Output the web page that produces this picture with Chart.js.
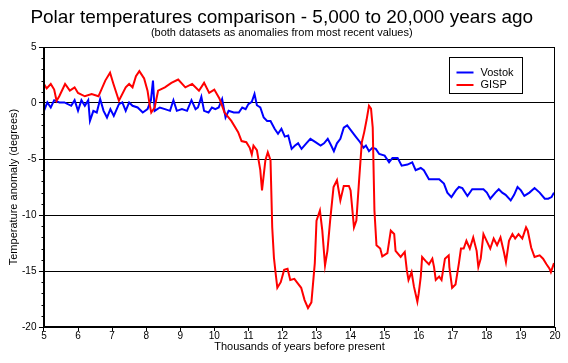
<!DOCTYPE html>
<html>
<head>
<meta charset="utf-8">
<title>Polar temperatures comparison</title>
<script src="https://cdn.jsdelivr.net/npm/chart.js@4.4.1/dist/chart.umd.min.js"></script>
<style>
  html, body { margin: 0; padding: 0; background: #fff; }
  #wrap { width: 568px; height: 363px; }
</style>
</head>
<body>
<div id="wrap"><canvas id="chart" width="568" height="363"></canvas></div>
<script>
/* Polar temperatures – Vostok vs GISP anomalies, 5k..20k years BP */

const vostokYears = [5.0, 5.1, 5.2, 5.3, 5.45, 5.6, 5.8, 5.9, 6.0, 6.1, 6.2, 6.3, 6.35, 6.45, 6.55, 6.65, 6.75, 6.85, 6.95, 7.05,
  7.2, 7.3, 7.4, 7.5, 7.6, 7.75, 7.9, 8.04, 8.14, 8.2, 8.25, 8.4, 8.55, 8.7, 8.8, 8.9, 9.05, 9.2, 9.33, 9.45,
  9.52, 9.62, 9.7, 9.83, 9.93, 10.03, 10.13, 10.23, 10.33, 10.42, 10.57, 10.72, 10.82, 10.92, 11.0, 11.1, 11.18, 11.25, 11.35, 11.45,
  11.55, 11.65, 11.77, 11.87, 11.97, 12.07, 12.17, 12.27, 12.37, 12.46, 12.56, 12.7, 12.82, 12.97, 13.12, 13.22, 13.33, 13.43, 13.51, 13.6,
  13.7, 13.8, 13.9, 14.0, 14.15, 14.28, 14.38, 14.45, 14.54, 14.64, 14.74, 14.84, 15.0, 15.13, 15.23, 15.38, 15.5, 15.67, 15.81, 15.91,
  16.06, 16.15, 16.3, 16.45, 16.6, 16.74, 16.84, 16.96, 17.09, 17.18, 17.28, 17.43, 17.57, 17.72, 17.9, 18.0, 18.1, 18.25, 18.35, 18.45,
  18.55, 18.7, 18.8, 18.9, 19.0, 19.1, 19.25, 19.4, 19.55, 19.7, 19.8, 19.9, 19.97];
const vostokTemp = [-0.7, 0.05, -0.4, 0.25, 0.05, 0.05, -0.25, 0.25, -0.7, 0.25, -0.25, 0.25, -1.6, -0.7, -0.85, 0.35, -0.7, -1.3, -0.55, -1.15,
  -0.1, 0.05, -0.7, 0.05, -0.25, -0.4, -0.85, -0.55, 0.25, 2.0, -0.7, -0.4, -0.55, -0.7, 0.25, -0.7, -0.55, -0.7, 0.25, -0.55,
  -0.4, 0.55, -0.7, -0.85, -0.4, -0.55, -0.4, 0.35, -1.3, -0.7, -0.85, -0.85, -0.4, -0.55, -0.1, 0.1, 0.8, -0.2, -0.4, -1.3,
  -1.6, -1.6, -2.3, -2.75, -2.3, -3.0, -2.9, -4.1, -3.8, -3.6, -4.1, -3.6, -3.2, -3.5, -3.8, -3.6, -3.2, -3.8, -4.3, -3.6,
  -3.2, -2.2, -2.0, -2.4, -3.0, -3.5, -4.0, -3.8, -4.3, -4.0, -4.1, -4.55, -4.7, -5.3, -4.9, -4.9, -5.6, -5.5, -5.3, -6.0,
  -5.8, -6.0, -6.8, -6.8, -6.8, -7.2, -8.0, -8.4, -7.8, -7.5, -7.6, -8.3, -7.7, -7.7, -7.7, -8.0, -8.55, -8.0, -7.7, -8.0,
  -8.2, -8.7, -8.2, -7.5, -7.8, -8.3, -8.0, -7.6, -8.0, -8.55, -8.55, -8.4, -8.0];

const gispYears = [5.0, 5.08, 5.2, 5.3, 5.37, 5.45, 5.62, 5.76, 5.9, 6.0, 6.2, 6.4, 6.6, 6.8, 6.94, 7.04, 7.2, 7.4, 7.5, 7.6,
  7.7, 7.8, 7.94, 8.04, 8.1, 8.15, 8.25, 8.35, 8.55, 8.74, 8.94, 9.15, 9.35, 9.55, 9.7, 9.85, 10.0, 10.15, 10.3, 10.5,
  10.7, 10.8, 10.94, 11.04, 11.1, 11.15, 11.25, 11.35, 11.4, 11.5, 11.57, 11.65, 11.7, 11.75, 11.8, 11.85, 11.95, 12.05, 12.15, 12.23,
  12.35, 12.45, 12.55, 12.65, 12.75, 12.85, 12.95, 13.0, 13.1, 13.17, 13.25, 13.32, 13.4, 13.5, 13.6, 13.7, 13.8, 13.95, 14.0, 14.1,
  14.17, 14.25, 14.33, 14.4, 14.47, 14.54, 14.6, 14.65, 14.7, 14.76, 14.87, 14.93, 15.08, 15.18, 15.28, 15.32, 15.47, 15.59, 15.65, 15.7,
  15.79, 15.86, 15.96, 16.0, 16.06, 16.1, 16.2, 16.3, 16.4, 16.45, 16.5, 16.6, 16.67, 16.77, 16.88, 16.9, 16.98, 17.08, 17.18, 17.24,
  17.32, 17.4, 17.5, 17.6, 17.7, 17.75, 17.82, 17.9, 18.1, 18.2, 18.3, 18.4, 18.5, 18.56, 18.65, 18.75, 18.83, 18.93, 19.04, 19.15,
  19.2, 19.3, 19.4, 19.55, 19.65, 19.75, 19.84, 19.88, 19.97];
const gispTemp = [1.7, 1.3, 1.7, 1.2, 0.2, 0.6, 1.7, 1.1, 1.4, 0.9, 0.6, 0.8, 0.6, 2.0, 2.7, 1.7, 0.2, 1.4, 1.7, 1.4,
  2.4, 2.85, 2.2, 1.1, -0.1, -0.85, -0.4, 1.1, 1.4, 1.8, 2.1, 1.4, 1.7, 1.1, 1.8, 0.9, 1.2, 0.4, -0.85, -1.6,
  -2.6, -3.4, -3.5, -4.0, -4.6, -3.8, -4.2, -6.0, -7.8, -5.1, -4.4, -5.1, -11.1, -13.8, -15.2, -16.5, -16.0, -14.9, -14.8, -15.8,
  -15.7, -16.1, -16.5, -17.6, -18.3, -17.8, -14.3, -10.5, -9.6, -11.4, -14.5, -13.2, -10.5, -7.5, -6.9, -8.7, -7.4, -7.4, -7.8, -11.1,
  -10.5, -6.9, -3.5, -2.6, -1.5, -0.25, -0.5, -2.2, -9.6, -12.7, -13.0, -13.7, -13.4, -11.4, -11.7, -13.2, -13.75, -13.3, -14.9, -15.8,
  -15.1, -16.4, -17.75, -17.0, -15.5, -13.75, -14.1, -14.4, -13.9, -14.65, -15.8, -15.5, -15.8, -13.9, -13.6, -14.65, -16.5, -16.2, -14.3, -13.0,
  -13.0, -12.3, -13.0, -12.0, -13.2, -14.65, -13.9, -11.7, -13.0, -12.1, -12.7, -12.0, -13.3, -14.2, -12.3, -11.7, -12.1, -11.7, -12.1, -11.1,
  -11.4, -12.9, -13.75, -13.6, -13.9, -14.4, -14.8, -15.1, -14.3];

const xTicks = [5, 6, 7, 8, 9, 10, 11, 12, 13, 14, 15, 16, 17, 18, 19, 20];
const yTicks = [5, 0, -5, -10, -15, -20];

const FONT = '"Liberation Sans", Arial, sans-serif';

function toPoints(xs, ys) {
  return xs.map((x, i) => ({ x: x, y: ys[i] }));
}

// frame round the plot, minor y ticks and the boxed legend
const decorPlugin = {
  id: "decor",
  afterDatasetsDraw(chart) {
    const ctx = chart.ctx;
    const a = chart.chartArea;
    const ys = chart.scales.y;
    ctx.save();
    ctx.strokeStyle = "#000";
    ctx.lineWidth = 1;

    const L = Math.round(a.left) + 0.5, R = Math.round(a.right) - 0.5;
    const T = Math.round(a.top) + 0.5, B = Math.round(a.bottom) - 0.5;
    ctx.strokeRect(L, T, R - L, B - T);

    // minor ticks each degree
    ctx.beginPath();
    for (let v = -19; v < 5; v++) {
      if (v % 5 === 0) continue;
      const py = Math.round(ys.getPixelForValue(v)) + 0.5;
      ctx.moveTo(L - 3, py);
      ctx.lineTo(L, py);
    }
    ctx.stroke();

    // legend
    const bx = Math.round(a.right) - 105.5, by = Math.round(a.top) + 10.5;
    const bw = 73, bh = 36;
    ctx.fillStyle = "#fff";
    ctx.fillRect(bx, by, bw, bh);
    ctx.strokeRect(bx, by, bw, bh);
    ctx.font = "11px " + FONT;
    ctx.textBaseline = "middle";
    chart.data.datasets.forEach((ds, i) => {
      const ly = by + 15 + i * 12.5;
      ctx.strokeStyle = ds.borderColor;
      ctx.lineWidth = 2;
      ctx.beginPath();
      ctx.moveTo(bx + 7, ly);
      ctx.lineTo(bx + 24, ly);
      ctx.stroke();
      ctx.fillStyle = "#000";
      ctx.fillText(ds.label, bx + 31, ly);
    });
    ctx.restore();
  }
};

const chart = new Chart(document.getElementById("chart"), {
  type: "line",
  data: {
    datasets: [
      { label: "Vostok", data: toPoints(vostokYears, vostokTemp), borderColor: "#0000ff", borderWidth: 2, pointRadius: 0, tension: 0, order: 1 },
      { label: "GISP", data: toPoints(gispYears, gispTemp), borderColor: "#ff0000", borderWidth: 2, pointRadius: 0, tension: 0, order: 0 }
    ]
  },
  options: {
    responsive: false,
    animation: false,
    events: [],
    layout: { padding: { left: 8.5, right: 13, top: 0, bottom: 11 } },
    plugins: {
      legend: { display: false },
      tooltip: { enabled: false },
      title: {
        display: true,
        text: "Polar temperatures comparison - 5,000 to 20,000 years ago",
        color: "#000",
        font: { family: FONT, size: 19, weight: "normal", lineHeight: 1 },
        padding: { top: 8, bottom: 0 }
      },
      subtitle: {
        display: true,
        text: "(both datasets as anomalies from most recent values)",
        color: "#000",
        font: { family: FONT, size: 11, weight: "normal", lineHeight: 1 },
        padding: { top: 0, bottom: 9 }
      }
    },
    scales: {
      x: {
        type: "linear",
        min: 5,
        max: 20,
        afterBuildTicks: axis => { axis.ticks = xTicks.map(v => ({ value: v })); },
        grid: { drawOnChartArea: false, tickLength: 4, tickColor: "#000" },
        border: { color: "#000" },
        ticks: { color: "#000", font: { family: FONT, size: 10, lineHeight: 1 }, padding: 0, maxRotation: 0 },
        title: { display: true, text: "Thousands of years before present", color: "#000", font: { family: FONT, size: 11, lineHeight: 1 }, padding: { top: 0, bottom: 0 } }
      },
      y: {
        min: -20,
        max: 5,
        afterBuildTicks: axis => { axis.ticks = yTicks.map(v => ({ value: v })); },
        grid: { color: "#000", tickLength: 5, tickColor: "#000" },
        border: { color: "#000" },
        ticks: { color: "#000", font: { family: FONT, size: 10 }, padding: 2.5 },
        title: { display: true, text: "Temperature anomaly (degrees)", color: "#000", font: { family: FONT, size: 11, lineHeight: 1 }, padding: { top: 0, bottom: 0 } }
      }
    }
  },
  plugins: [decorPlugin]
});
</script>
</body>
</html>
